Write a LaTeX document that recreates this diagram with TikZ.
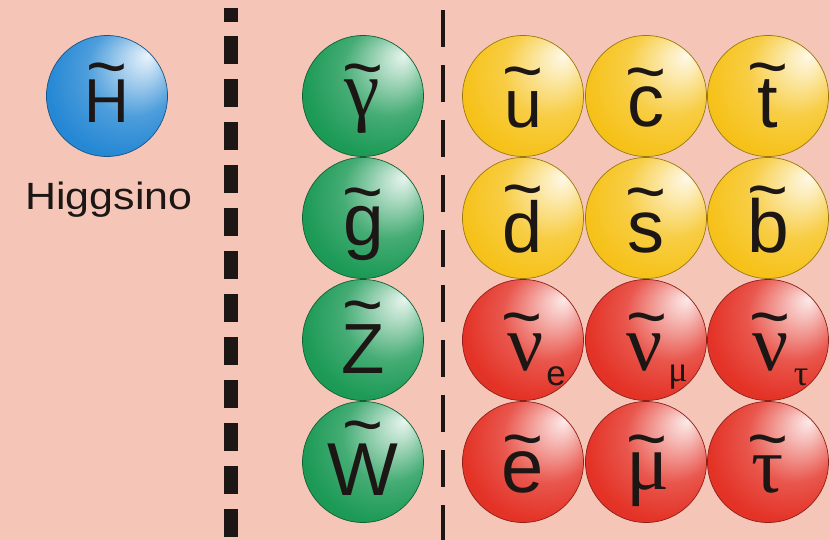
\documentclass[tikz,border=0pt]{standalone}
\usepackage{fontspec}
\setmainfont{Liberation Sans}
\newfontfamily\grk{Liberation Serif}
\definecolor{bg}{RGB}{245,198,183}
\definecolor{cblue}{RGB}{38,136,212}
\definecolor{cgreen}{RGB}{28,154,86}
\definecolor{cyellow}{RGB}{246,194,26}
\definecolor{cred}{RGB}{228,50,38}
\definecolor{ink}{RGB}{28,22,20}
\colorlet{sph}{red}
\pgfdeclareradialshading[sph]{sphereshade}{\pgfqpoint{17bp}{17bp}}{%
  color(0bp)=(sph!10!white); color(6bp)=(sph!32!white); color(19bp)=(sph!82!white);
  color(31bp)=(sph); color(45bp)=(sph!93!black); color(50bp)=(sph!80!black)}
\newcommand\fs[1]{\fontsize{#1pt}{#1pt}\selectfont}
\tikzset{
  sphcol/.code={\colorlet{sph}{#1}},
  ball/.style={circle, minimum size=121pt, inner sep=0pt, draw=#1!62!black,
    line width=0.7pt, sphcol=#1, shading=sphereshade},
  lbl/.style={inner sep=0pt, anchor=base, text=ink},
  tld/.style={inner sep=0pt, anchor=south, text=ink, font=\fs{70}},
  sublbl/.style={inner sep=0pt, anchor=base, text=ink},
}
% tilde glyph trimmed to its ink: bottom of box = bottom of ink
\newcommand\tl{\raisebox{-0.263em}[0.16em][0pt]{\char"007E}}
\begin{document}
\begin{tikzpicture}[x=1pt,y=-1pt]
\useasboundingbox (0,0) rectangle (830,540);
\fill[bg] (0,0) rectangle (830,540);
% separators
\fill[ink] (224,8) rectangle (238,22);
\foreach \k in {0,...,11} \fill[ink] (224,36+43*\k) rectangle (238,64+43*\k);
\draw[ink, line width=3.5pt, dash pattern=on 37pt off 18pt] (443,10) -- (443,540);
% Higgsino
\node[ball=cblue] (sH) at (107,96) {};
\node[lbl, font=\fs{62}] (lH) at (107,123) {H};
\node[tld] (tH) at (107,72.5) {\tl};
\node[lbl, font=\fs{38}] (nameH) at (109,210) {\scalebox{1.13}[1]{Higgsino}};
% gauginos
\node[ball=cgreen] (sA) at (363,96) {};
\node[ball=cgreen] (sG) at (363,218) {};
\node[ball=cgreen] (sZ) at (363,340) {};
\node[ball=cgreen] (sW) at (363,462) {};
\node[lbl, font=\grk\fs{80}] (lA) at (362,117) {γ};
\node[tld] (tA) at (363,73.5) {\tl};
\node[lbl, font=\fs{73}] (lG) at (364,245) {g};
\node[tld] (tG) at (363,197.5) {\tl};
\node[lbl, font=\fs{71}] (lZ) at (363,373) {Z};
\node[tld] (tZ) at (363,310.5) {\tl};
\node[lbl, font=\fs{75}] (lW) at (363,495) {W};
\node[tld] (tW) at (363,430.5) {\tl};
% squarks
\node[ball=cyellow] (su) at (523,96) {};
\node[ball=cyellow] (sc) at (646,96) {};
\node[ball=cyellow] (st) at (768,96) {};
\node[ball=cyellow] (sd) at (523,218) {};
\node[ball=cyellow] (ss) at (646,218) {};
\node[ball=cyellow] (sb) at (768,218) {};
\node[lbl, font=\fs{68}] (lu) at (523,128) {u};
\node[tld] (tu) at (523,76.5) {\tl};
\node[lbl, font=\fs{74}] (lc) at (646,127) {c};
\node[tld] (tc) at (646,77.5) {\tl};
\node[lbl, font=\fs{74}] (lt) at (768,128) {t};
\node[tld] (tt) at (768,72.5) {\tl};
\node[lbl, font=\fs{72}] (ld) at (523,252) {d};
\node[tld] (td) at (523,194.5) {\tl};
\node[lbl, font=\fs{74}] (ls) at (646,252) {s};
\node[tld] (ts) at (646,197.5) {\tl};
\node[lbl, font=\fs{75}] (lb) at (768,252) {b};
\node[tld] (tb) at (768,195.5) {\tl};
% sleptons
\node[ball=cred] (sne) at (523,340) {};
\node[ball=cred] (snm) at (646,340) {};
\node[ball=cred] (snt) at (768,340) {};
\node[ball=cred] (se) at (523,462) {};
\node[ball=cred] (sm) at (646,462) {};
\node[ball=cred] (sta) at (768,462) {};
\node[lbl, font=\grk\fs{80}] (lne) at (526,370) {ν};
\node[sublbl, font=\fs{35}] (sube) at (556,385) {e};
\node[tld] (tne) at (522,322.5) {\tl};
\node[lbl, font=\grk\fs{80}] (lnm) at (645,370) {ν};
\node[sublbl, font=\grk\fs{36}] (subm) at (678,381) {μ};
\node[tld] (tnm) at (647,322.5) {\tl};
\node[lbl, font=\grk\fs{80}] (lnt) at (771,370) {ν};
\node[sublbl, font=\grk\fs{36}] (subt) at (801,385) {τ};
\node[tld] (tnt) at (770,322.5) {\tl};
\node[lbl, font=\fs{76}] (le) at (523,492) {e};
\node[tld] (te) at (523,444.5) {\tl};
\node[lbl, font=\grk\fs{80}] (lm) at (648,489) {μ};
\node[tld] (tm) at (647,444.5) {\tl};
\node[lbl, font=\grk\fs{80}] (lta) at (768,492) {τ};
\node[tld] (tta) at (768,444.5) {\tl};
\end{tikzpicture}
\end{document}
